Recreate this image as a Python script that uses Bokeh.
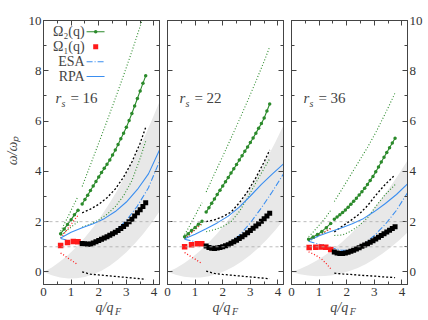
import math
from bokeh.plotting import figure
from bokeh.models import Range1d, LinearAxis, FixedTicker, Span, Label
from bokeh.layouts import row, column
from bokeh.embed import file_html
from bokeh.resources import INLINE

# ---------------- data ----------------
RS = ["16", "22", "36"]
H_LINES = [1, 2]
X_MAJOR = [0, 1, 2, 3, 4]
X_MINOR = [0.5, 1.5, 2.5, 3.5]
Y_MAJOR = [0, 2, 4, 6, 8, 10]
Y_MINOR = [1, 3, 5, 7, 9]

# particle-hole continuum (grey band)
Q_CONT = [0, 0.3, 0.6, 0.9, 1.2, 1.5, 1.8, 2.1, 2.4, 2.7, 3.0, 3.3, 3.6, 3.9, 4.2]
CONT_LO_16 = [0, -0.13, -0.22, -0.26, -0.25, -0.20, -0.09, 0.05, 0.25, 0.49, 0.78, 1.12, 1.50, 1.93, 2.40]
CONT_HI_16 = [0, 0.18, 0.41, 0.68, 1.00, 1.37, 1.78, 2.24, 2.75, 3.30, 3.90, 4.55, 5.24, 5.98, 6.77]
CONT_LO_22 = [0, -0.11, -0.19, -0.22, -0.22, -0.17, -0.08, 0.05, 0.22, 0.42, 0.67, 0.96, 1.29, 1.66, 2.07]
CONT_HI_22 = [0, 0.15, 0.35, 0.58, 0.86, 1.18, 1.53, 1.93, 2.37, 2.84, 3.36, 3.92, 4.52, 5.15, 5.83]
CONT_LO_36 = [0, -0.09, -0.14, -0.17, -0.16, -0.13, -0.06, 0.04, 0.16, 0.32, 0.51, 0.73, 0.98, 1.26, 1.57]
CONT_HI_36 = [0, 0.12, 0.27, 0.44, 0.65, 0.89, 1.16, 1.46, 1.80, 2.16, 2.55, 2.97, 3.43, 3.91, 4.43]

# RPA / ESA curves
Q_BLUE = [0.62, 1.0, 1.4, 1.8, 2.2, 2.6, 3.0, 3.4, 3.8, 4.2]
RPA_16 = [1.35, 1.58, 1.76, 1.92, 2.12, 2.40, 2.78, 3.28, 3.90, 4.85]
ESA_16 = [1.33, 1.22, 1.15, 1.14, 1.30, 1.62, 2.05, 2.62, 3.35, 4.40]
RPA_22 = [1.32, 1.50, 1.72, 1.95, 2.22, 2.58, 3.02, 3.48, 3.90, 4.30]
ESA_22 = [1.30, 1.20, 1.06, 0.98, 1.10, 1.45, 1.95, 2.55, 3.20, 3.90]
RPA_36 = [1.25, 1.44, 1.60, 1.75, 1.92, 2.12, 2.40, 2.72, 3.08, 3.50]
ESA_36 = [1.22, 1.10, 0.98, 0.86, 0.86, 1.08, 1.45, 1.90, 2.45, 3.15]

# low-q branch (Omega_2 first segment, red/green dotted widths)
QA_16 = [0.62, 0.75, 0.87, 1.0, 1.12, 1.25]
W2A_16 = [1.52, 1.71, 1.89, 2.08, 2.27, 2.45]
GUPA_16 = [1.62, 1.90, 2.16, 2.45, 2.72, 3.00]
GLOA_16 = [1.45, 1.56, 1.67, 1.78, 1.89, 2.00]
RUP_16 = [1.35, 1.53, 1.71, 1.89, 2.07, 2.25]
RLO_16 = [0.75, 0.66, 0.56, 0.47, 0.38, 0.28]
QA_22 = [0.62, 0.75, 0.87, 1.0, 1.12, 1.25]
W2A_22 = [1.40, 1.52, 1.65, 1.77, 1.90, 2.02]
GUPA_22 = [1.48, 1.73, 1.99, 2.24, 2.50, 2.75]
GLOA_22 = [1.33, 1.44, 1.56, 1.67, 1.79, 1.90]
RUP_22 = [1.30, 1.43, 1.56, 1.69, 1.82, 1.95]
RLO_22 = [0.77, 0.68, 0.59, 0.51, 0.42, 0.33]
QA_36 = [0.62, 0.78, 0.94, 1.10, 1.26, 1.42]
W2A_36 = [1.30, 1.39, 1.49, 1.61, 1.76, 1.93]
GUPA_36 = [1.40, 1.58, 1.78, 1.98, 2.20, 2.45]
GLOA_36 = [1.22, 1.31, 1.41, 1.51, 1.62, 1.75]
RUP_36 = [1.27, 1.36, 1.45, 1.54, 1.63, 1.72]
RLO_36 = [0.80, 0.72, 0.62, 0.50, 0.33, 0.13]

# Omega_1 (red points)
QRED_16 = [0.62, 0.87, 1.08, 1.25]
W1R_16 = [1.05, 1.17, 1.21, 1.20]
QRED_22 = [0.62, 0.87, 1.08, 1.24]
W1R_22 = [1.00, 1.08, 1.12, 1.12]
QRED_36 = [0.64, 0.88, 1.08, 1.24, 1.42]
W1R_36 = [0.97, 0.98, 0.99, 0.98, 0.89]

# high-q branch: Omega_2 (green) and Omega_1 (black points)
QB_16 = [1.4, 1.5, 1.6, 1.7, 1.8, 1.9, 2.0, 2.1, 2.2, 2.3, 2.4, 2.5, 2.6, 2.7, 2.8, 2.9, 3.0, 3.1, 3.2, 3.3, 3.4, 3.5, 3.6, 3.7]
W2B_16 = [2.70, 2.88, 3.05, 3.24, 3.42, 3.60, 3.78, 3.95, 4.12, 4.28, 4.45, 4.65, 4.85, 5.07, 5.30, 5.52, 5.75, 6.02, 6.30, 6.60, 6.90, 7.20, 7.50, 7.80]
W1B_16 = [1.13, 1.12, 1.10, 1.11, 1.15, 1.20, 1.25, 1.30, 1.35, 1.40, 1.46, 1.52, 1.58, 1.65, 1.73, 1.81, 1.90, 2.00, 2.10, 2.22, 2.35, 2.47, 2.60, 2.75]
QB_22 = [1.4, 1.5, 1.6, 1.7, 1.8, 1.9, 2.0, 2.1, 2.2, 2.3, 2.4, 2.5, 2.6, 2.7, 2.8, 2.9, 3.0, 3.1, 3.2, 3.3, 3.4, 3.5, 3.6, 3.7]
W2B_22 = [2.38, 2.55, 2.73, 2.90, 3.08, 3.25, 3.42, 3.59, 3.76, 3.93, 4.10, 4.27, 4.45, 4.62, 4.80, 4.97, 5.15, 5.33, 5.52, 5.71, 5.90, 6.12, 6.40, 6.68]
W1B_22 = [1.03, 0.97, 0.94, 0.93, 0.95, 0.97, 1.00, 1.04, 1.08, 1.14, 1.20, 1.26, 1.33, 1.40, 1.48, 1.56, 1.65, 1.74, 1.83, 1.92, 2.02, 2.12, 2.22, 2.33]
QB_36 = [1.55, 1.65, 1.75, 1.85, 1.95, 2.05, 2.15, 2.25, 2.35, 2.45, 2.55, 2.65, 2.75, 2.85, 2.95, 3.05, 3.15, 3.25, 3.35, 3.45, 3.55, 3.65, 3.75]
W2B_36 = [2.10, 2.18, 2.27, 2.36, 2.46, 2.57, 2.69, 2.81, 2.93, 3.06, 3.19, 3.33, 3.48, 3.64, 3.80, 3.98, 4.17, 4.37, 4.56, 4.75, 4.94, 5.13, 5.32]
W1B_36 = [0.79, 0.75, 0.73, 0.73, 0.75, 0.78, 0.82, 0.86, 0.91, 0.96, 1.02, 1.07, 1.12, 1.18, 1.24, 1.31, 1.38, 1.45, 1.52, 1.59, 1.66, 1.73, 1.80]

# high-q widths (green / black dotted)
QS_16 = [1.4, 1.7, 2.0, 2.3, 2.6, 2.9, 3.2, 3.5, 3.7]
GUPB_16 = [3.40, 4.26, 5.13, 6.00, 6.90, 7.82, 8.77, 9.77, 10.45]
GLOB_16 = [1.78, 1.90, 2.07, 2.29, 2.60, 3.03, 3.63, 4.52, 5.20]
KUP_16 = [2.35, 2.50, 2.69, 2.95, 3.30, 3.77, 4.37, 5.12, 5.75]
KLO_16 = [0.00, -0.09, -0.12, -0.15, -0.18, -0.21, -0.24, -0.27, -0.29]
QS_22 = [1.4, 1.7, 2.0, 2.3, 2.6, 2.9, 3.2, 3.5, 3.7]
GUPB_22 = [3.18, 3.90, 4.60, 5.32, 6.05, 6.80, 7.58, 8.38, 8.95]
GLOB_22 = [1.60, 1.68, 1.80, 2.00, 2.40, 2.95, 3.55, 4.12, 4.50]
KUP_22 = [2.00, 2.07, 2.20, 2.38, 2.75, 3.20, 3.75, 4.38, 4.85]
KLO_22 = [0.03, -0.06, -0.10, -0.13, -0.16, -0.19, -0.22, -0.25, -0.27]
QS_36 = [1.55, 1.85, 2.15, 2.45, 2.75, 3.05, 3.35, 3.55, 3.75]
GUPB_36 = [2.80, 3.33, 3.87, 4.41, 4.95, 5.54, 6.20, 6.65, 7.12]
GLOB_36 = [1.45, 1.47, 1.62, 1.85, 2.15, 2.60, 3.02, 3.25, 3.47]
KUP_36 = [1.59, 1.83, 2.05, 2.30, 2.63, 3.05, 3.43, 3.65, 3.86]
KLO_36 = [-0.05, -0.08, -0.10, -0.13, -0.15, -0.17, -0.20, -0.21, -0.23]

LEGEND_LABELS = ["Ω₂(q)", "Ω₁(q)", "ESA", "RPA"]

# ---------------- style ----------------
SERIF = "Liberation Serif"
GREEN = "#2b8a2b"
BLUE = "#3a8ef0"
RED = "#ff1a1a"
AX = "#444444"
GREY = "#e8e8e8"
FRAME_W = 116
FRAME_H = 264
TOP = 20
BOTTOM = 16
XLAB_H = 18
YLAB_W = 22

PANELS = [
    dict(rs=RS[0], qc=Q_CONT, clo=CONT_LO_16, chi=CONT_HI_16, rpa=RPA_16, esa=ESA_16,
         qa=QA_16, w2a=W2A_16, gupa=GUPA_16, gloa=GLOA_16, rup=RUP_16, rlo=RLO_16,
         qred=QRED_16, w1r=W1R_16, qb=QB_16, w2b=W2B_16, w1b=W1B_16,
         qs=QS_16, gupb=GUPB_16, glob=GLOB_16, kup=KUP_16, klo=KLO_16),
    dict(rs=RS[1], qc=Q_CONT, clo=CONT_LO_22, chi=CONT_HI_22, rpa=RPA_22, esa=ESA_22,
         qa=QA_22, w2a=W2A_22, gupa=GUPA_22, gloa=GLOA_22, rup=RUP_22, rlo=RLO_22,
         qred=QRED_22, w1r=W1R_22, qb=QB_22, w2b=W2B_22, w1b=W1B_22,
         qs=QS_22, gupb=GUPB_22, glob=GLOB_22, kup=KUP_22, klo=KLO_22),
    dict(rs=RS[2], qc=Q_CONT, clo=CONT_LO_36, chi=CONT_HI_36, rpa=RPA_36, esa=ESA_36,
         qa=QA_36, w2a=W2A_36, gupa=GUPA_36, gloa=GLOA_36, rup=RUP_36, rlo=RLO_36,
         qred=QRED_36, w1r=W1R_36, qb=QB_36, w2b=W2B_36, w1b=W1B_36,
         qs=QS_36, gupb=GUPB_36, glob=GLOB_36, kup=KUP_36, klo=KLO_36),
]


def make_axis(kind, labels):
    ax = LinearAxis()
    if kind == "x":
        ax.ticker = FixedTicker(ticks=X_MAJOR, minor_ticks=X_MINOR)
    else:
        ax.ticker = FixedTicker(ticks=Y_MAJOR, minor_ticks=Y_MINOR)
    ax.major_tick_in = 5
    ax.major_tick_out = 0
    ax.minor_tick_in = 3
    ax.minor_tick_out = 0
    ax.axis_line_color = AX
    ax.major_tick_line_color = AX
    ax.minor_tick_line_color = AX
    ax.major_label_text_font = SERIF
    if labels:
        ax.major_label_text_color = "#333333"
        ax.major_label_text_font_size = "13px"
        ax.major_label_standoff = 3 if kind == "x" else 2
    else:
        ax.major_label_text_color = None
        ax.major_label_text_font_size = "1px"
        ax.major_label_standoff = 0
    return ax


def blank_fig(w, h):
    f = figure(width=w, height=h, x_range=Range1d(0, w), y_range=Range1d(0, h),
               output_backend="svg", toolbar_location=None,
               x_axis_location=None, y_axis_location=None,
               min_border_left=0, min_border_right=0, min_border_top=0, min_border_bottom=0)
    f.xgrid.grid_line_color = None
    f.ygrid.grid_line_color = None
    f.outline_line_color = None
    return f


def make_panel(i, d):
    bl = [43 - YLAB_W, 4, 4][i]
    br = [4, 4, 19][i]
    p = figure(width=bl + FRAME_W + br, height=TOP + FRAME_H + BOTTOM,
               x_range=Range1d(0, 4.2), y_range=Range1d(-0.5, 10),
               output_backend="svg", toolbar_location=None,
               x_axis_location=None, y_axis_location=None,
               min_border_left=bl, min_border_right=br,
               min_border_top=TOP, min_border_bottom=BOTTOM)
    p.xgrid.grid_line_color = None
    p.ygrid.grid_line_color = None
    p.outline_line_color = AX
    p.background_fill_color = "white"
    p.border_fill_color = "white"

    p.add_layout(make_axis("x", True), "below")
    p.add_layout(make_axis("x", False), "above")
    p.add_layout(make_axis("y", i == 0), "left")
    p.add_layout(make_axis("y", i == 2), "right")

    # continuum
    p.varea(x=d["qc"], y1=d["clo"], y2=d["chi"], fill_color=GREY)
    for h in H_LINES:
        p.add_layout(Span(location=h, dimension="width", line_color="#aaaaaa",
                          line_dash="3 3", line_width=0.8))

    # widths (dotted)
    p.line(d["qa"], d["gupa"], line_color=GREEN, line_dash="1 2", line_width=1.1)
    p.line(d["qa"], d["gloa"], line_color=GREEN, line_dash="1 2", line_width=1.1)
    p.line(d["qs"], d["gupb"], line_color=GREEN, line_dash="1 2", line_width=1.1)
    p.line(d["qs"], d["glob"], line_color=GREEN, line_dash="1 2", line_width=1.1)
    p.line(d["qa"], d["rup"], line_color=RED, line_dash="1 2", line_width=1.3)
    p.line(d["qa"], d["rlo"], line_color=RED, line_dash="1 2", line_width=1.3)
    p.line(d["qs"], d["kup"], line_color="black", line_dash="2 2", line_width=1.3)
    p.line(d["qs"], d["klo"], line_color="black", line_dash="2 2", line_width=1.3)

    # RPA / ESA
    p.line(Q_BLUE, d["rpa"], line_color=BLUE, line_width=1.1)
    p.line(Q_BLUE, d["esa"], line_color=BLUE, line_width=1.1, line_dash="6 2 1 2")

    # Omega_2
    p.line(d["qa"], d["w2a"], line_color=GREEN, line_width=1.1)
    p.scatter(d["qa"], d["w2a"], size=3.5, color=GREEN, line_width=0)
    p.line(d["qb"], d["w2b"], line_color=GREEN, line_width=1.1)
    p.scatter(d["qb"], d["w2b"], size=3.5, color=GREEN, line_width=0)

    # Omega_1
    p.scatter(d["qred"], d["w1r"], size=5.5, marker="square", color=RED, line_width=0)
    p.scatter(d["qb"], d["w1b"], size=5, marker="square", color="black", line_width=0)

    # r_s label
    p.add_layout(Label(x=0.43, y=6.9, text="r", text_font=SERIF, text_font_style="italic",
                       text_font_size="15px", text_baseline="middle"))
    p.add_layout(Label(x=0.43, y=6.9, x_offset=6, y_offset=-5, text="s", text_font=SERIF,
                       text_font_style="italic", text_font_size="10px", text_baseline="middle"))
    p.add_layout(Label(x=0.43, y=6.9, x_offset=15, text="= " + d["rs"], text_font=SERIF,
                       text_font_size="15px", text_baseline="middle"))

    if i == 0:
        # legend (labels right aligned, sample on the right)
        ys = [9.55, 8.96, 8.36, 7.77]
        for lab, yy in zip(LEGEND_LABELS, ys):
            p.add_layout(Label(x=1.49, y=yy, text=lab, text_font=SERIF, text_font_size="14px",
                               text_align="right", text_baseline="middle"))
        p.line([1.56, 2.21], [ys[0], ys[0]], line_color=GREEN, line_width=1.1)
        p.scatter([1.89], [ys[0]], size=3.5, color=GREEN, line_width=0)
        p.scatter([1.89], [ys[1]], size=5, marker="square", color=RED, line_width=0)
        p.line([1.56, 2.21], [ys[2], ys[2]], line_color=BLUE, line_width=1.1, line_dash="6 2 1 2")
        p.line([1.56, 2.21], [ys[3], ys[3]], line_color=BLUE, line_width=1.1)

    # x label figure below
    w = bl + FRAME_W + br
    xl = blank_fig(w, XLAB_H)
    cx = bl + FRAME_W / 2
    xl.add_layout(Label(x=cx, y=XLAB_H - 7, x_offset=-13, text="q/q", text_font=SERIF,
                        text_font_style="italic", text_font_size="14px", text_baseline="middle"))
    xl.add_layout(Label(x=cx, y=XLAB_H - 7, x_offset=6.5, y_offset=-4, text="F", text_font=SERIF,
                        text_font_style="italic", text_font_size="10px", text_baseline="middle"))
    return column(p, xl, spacing=0)


total_h = TOP + FRAME_H + BOTTOM + XLAB_H
yl = blank_fig(YLAB_W, total_h)
yl.add_layout(Label(x=12, y=total_h - 150, text="ω/ωₚ", angle=math.pi / 2,
                    text_font=SERIF, text_font_style="italic", text_font_size="14px",
                    text_align="center", text_baseline="middle"))

cols = [make_panel(i, d) for i, d in enumerate(PANELS)]
layout = row(yl, *cols, spacing=0)
open("out.html", "w").write(file_html(layout, INLINE))
